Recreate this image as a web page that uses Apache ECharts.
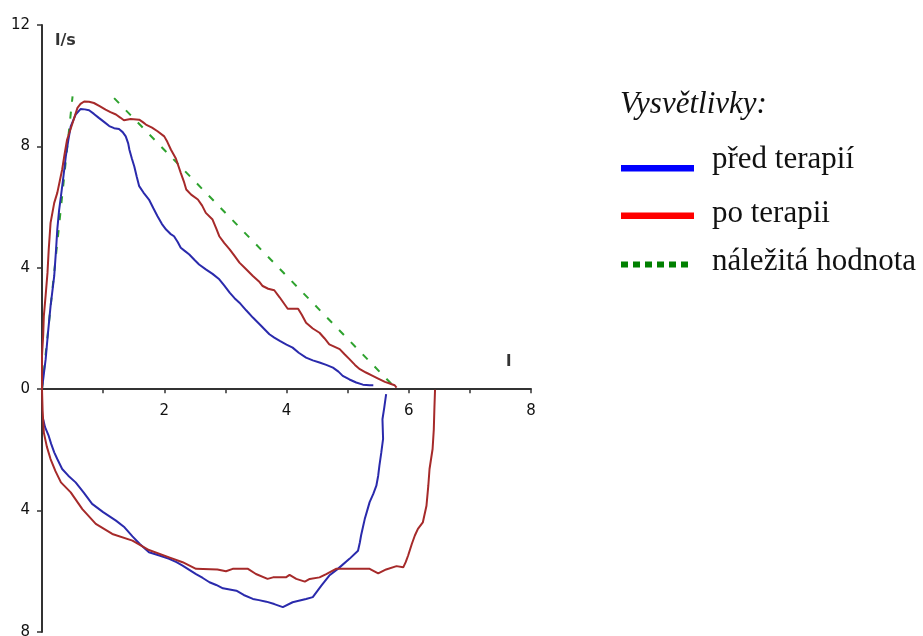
<!DOCTYPE html>
<html><head><meta charset="utf-8">
<script src="https://cdn.jsdelivr.net/npm/echarts@6/dist/echarts.min.js"></script>
<style>html,body{margin:0;padding:0;background:#fff}#c{width:923px;height:636px}</style>
</head><body><div id="c"></div>
<script>
// ---- data (volume l, flow l/s) ----
const legendTitle = 'Vysvětlivky:';
const seriesNames = ['před terapií', 'po terapii', 'náležitá hodnota'];
const xUnit = 'l';
const yUnit = 'l/s';
const xLabelValues = [2, 4, 6, 8];

const blueExp = [[0,0],[0.03,0.5],[0.06,0.99],[0.1,1.9],[0.14,2.74],[0.2,3.73],[0.23,4.6],[0.25,5.26],[0.28,5.9],[0.31,6.36],[0.35,7.0],[0.39,7.68],[0.43,8.2],[0.47,8.66],[0.55,9.05],[0.63,9.23],[0.7,9.22],[0.77,9.19],[0.85,9.07],[0.93,8.94],[1.02,8.8],[1.1,8.67],[1.18,8.6],[1.26,8.57],[1.32,8.47],[1.37,8.33],[1.41,8.1],[1.43,7.89],[1.47,7.6],[1.51,7.34],[1.55,7.0],[1.59,6.69],[1.66,6.48],[1.75,6.25],[1.82,5.97],[1.89,5.7],[1.96,5.45],[2.03,5.26],[2.1,5.12],[2.16,5.04],[2.22,4.85],[2.27,4.66],[2.34,4.55],[2.41,4.44],[2.5,4.25],[2.57,4.11],[2.68,3.95],[2.79,3.8],[2.9,3.62],[2.98,3.42],[3.07,3.18],[3.15,3.0],[3.23,2.85],[3.34,2.6],[3.45,2.36],[3.58,2.1],[3.72,1.81],[3.8,1.7],[3.89,1.59],[4.0,1.47],[4.1,1.37],[4.2,1.2],[4.32,1.04],[4.43,0.95],[4.54,0.88],[4.65,0.8],[4.76,0.71],[4.85,0.58],[4.92,0.44],[5.03,0.32],[5.14,0.22],[5.25,0.15],[5.36,0.13],[5.42,0.13]];

const blueInsp = [[5.63,-0.16],[5.6,-0.6],[5.57,-0.99],[5.58,-1.64],[5.55,-2.1],[5.52,-2.52],[5.5,-2.85],[5.47,-3.18],[5.42,-3.45],[5.36,-3.72],[5.32,-4.0],[5.28,-4.28],[5.25,-4.55],[5.22,-4.82],[5.2,-5.05],[5.17,-5.32],[5.03,-5.59],[4.84,-5.92],[4.7,-6.14],[4.57,-6.47],[4.43,-6.85],[4.32,-6.91],[4.2,-6.97],[4.1,-7.02],[3.94,-7.18],[3.8,-7.08],[3.67,-7.0],[3.55,-6.95],[3.45,-6.91],[3.3,-6.78],[3.18,-6.64],[3.07,-6.6],[2.96,-6.56],[2.85,-6.45],[2.74,-6.36],[2.63,-6.22],[2.52,-6.09],[2.41,-5.95],[2.3,-5.81],[2.2,-5.7],[2.08,-5.59],[1.92,-5.48],[1.75,-5.37],[1.6,-5.1],[1.48,-4.85],[1.35,-4.55],[1.21,-4.33],[1.0,-4.05],[0.82,-3.78],[0.68,-3.4],[0.55,-3.07],[0.43,-2.85],[0.33,-2.63],[0.25,-2.3],[0.2,-2.08],[0.15,-1.8],[0.11,-1.54],[0.05,-1.25],[0.02,-1.0]];

const redExp = [[0,0],[0.0,0.5],[0.0,1.1],[0.02,1.8],[0.03,2.41],[0.06,3.1],[0.09,3.84],[0.11,4.6],[0.14,5.48],[0.2,6.14],[0.25,6.47],[0.29,6.85],[0.33,7.24],[0.37,7.75],[0.41,8.22],[0.5,8.77],[0.58,9.27],[0.63,9.4],[0.69,9.48],[0.77,9.47],[0.85,9.43],[0.95,9.32],[1.04,9.21],[1.12,9.13],[1.21,9.05],[1.28,8.95],[1.34,8.86],[1.45,8.9],[1.59,8.88],[1.65,8.8],[1.7,8.72],[1.8,8.62],[1.89,8.5],[2.0,8.33],[2.05,8.15],[2.11,7.89],[2.19,7.6],[2.27,7.13],[2.32,6.85],[2.36,6.58],[2.44,6.41],[2.55,6.25],[2.62,6.05],[2.68,5.81],[2.79,5.59],[2.85,5.3],[2.9,5.04],[2.98,4.82],[3.07,4.61],[3.15,4.39],[3.23,4.17],[3.34,3.95],[3.45,3.73],[3.55,3.55],[3.61,3.4],[3.7,3.31],[3.8,3.26],[3.89,3.02],[4.02,2.65],[4.19,2.65],[4.25,2.45],[4.32,2.19],[4.43,2.0],[4.54,1.86],[4.62,1.68],[4.7,1.48],[4.87,1.32],[4.95,1.15],[5.03,0.99],[5.12,0.8],[5.2,0.66],[5.3,0.55],[5.41,0.44],[5.5,0.35],[5.61,0.24],[5.7,0.18],[5.77,0.13],[5.8,0.05]];

const redInsp = [[6.43,-0.02],[6.42,-0.6],[6.41,-1.32],[6.39,-1.97],[6.34,-2.63],[6.32,-3.18],[6.29,-3.84],[6.23,-4.39],[6.15,-4.6],[6.1,-4.82],[6.05,-5.1],[5.99,-5.48],[5.95,-5.7],[5.91,-5.87],[5.8,-5.83],[5.63,-5.94],[5.5,-6.07],[5.36,-5.92],[5.1,-5.92],[4.81,-5.92],[4.65,-6.09],[4.54,-6.2],[4.38,-6.25],[4.3,-6.34],[4.16,-6.25],[4.05,-6.12],[3.99,-6.2],[3.78,-6.2],[3.69,-6.25],[3.5,-6.09],[3.37,-5.92],[3.12,-5.92],[3.01,-6.0],[2.87,-5.94],[2.52,-5.92],[2.3,-5.7],[2.08,-5.54],[1.75,-5.3],[1.48,-4.99],[1.15,-4.77],[0.88,-4.44],[0.66,-3.95],[0.47,-3.4],[0.31,-3.07],[0.22,-2.7],[0.14,-2.3],[0.08,-1.9],[0.03,-1.43],[0.01,-0.7],[0,0]];

const greenRise = [[0,0],[0.5,9.65]];
const greenFall = [[1.18,9.59],[5.8,0]];

// ---- styles ----
const C_BLUE = '#2a2aac', C_RED = '#a62a2a', C_GREEN = '#2ea22e';
const axisFont = {fontFamily:'DejaVu Sans', fontSize:15, color:'#111'};
const GRID = {left:42, right:392, top:25, bottom:4};
const Y_MIN = -8, Y_MAX = 12;
const plotH = 636 - GRID.top - GRID.bottom;
const zeroOffset = -plotH * (0 - Y_MIN) / (Y_MAX - Y_MIN);

function line(name, data, color, dash){
  return {type:'line', name, data, showSymbol:false, symbol:'none', smooth:false,
    animation:false, silent:true,
    lineStyle:{color, width: 2, type: dash?[7,10]:'solid'}};
}

const chart = echarts.init(document.getElementById('c'), null, {renderer:'canvas'});
chart.setOption({
  backgroundColor:'#fff',
  animation:false,
  grid:{...GRID, containLabel:false, outerBoundsMode:'none'},
  xAxis:{type:'value', min:0, max:8, interval:1, position:'bottom', offset:zeroOffset,
    axisLine:{onZero:false, lineStyle:{color:'#333', width:2}},
    axisTick:{length:4, lineStyle:{color:'#333', width:1.5}},
    splitLine:{show:false},
    axisLabel:{margin:14, ...axisFont, formatter:v=> xLabelValues.includes(v)? String(v):''}},
  yAxis:{type:'value', min:Y_MIN, max:Y_MAX, interval:4,
    axisLine:{show:true, onZero:false, lineStyle:{color:'#333', width:2}},
    axisTick:{show:true, length:5, lineStyle:{color:'#333', width:1.5}},
    splitLine:{show:false},
    axisLabel:{margin:12, ...axisFont, formatter:v=>String(Math.abs(v))}},
  series:[
    line(seriesNames[2], greenRise, C_GREEN, true),
    line(seriesNames[2], greenFall, C_GREEN, true),
    line(seriesNames[0], blueExp, C_BLUE),
    line(seriesNames[0], blueInsp, C_BLUE),
    line(seriesNames[1], redExp, C_RED),
    line(seriesNames[1], redInsp, C_RED)
  ],
  graphic:[
    {type:'text', left:55, top:33, style:{text:yUnit, font:'bold 16px "DejaVu Sans"', fill:'#333'}},
    {type:'text', left:506, top:354, style:{text:xUnit, font:'bold 16px "DejaVu Sans"', fill:'#333'}},
    {type:'text', x:620, y:105, style:{text:legendTitle, font:'italic 31px "Liberation Serif"', fill:'#111', verticalAlign:'middle'}},
    {type:'rect', shape:{x:621, y:165, width:73, height:6.5}, style:{fill:'#0000ff'}},
    {type:'text', x:712, y:160, style:{text:seriesNames[0], font:'31px "Liberation Serif"', fill:'#111', verticalAlign:'middle'}},
    {type:'rect', shape:{x:621, y:212.5, width:73, height:6.5}, style:{fill:'#ff0000'}},
    {type:'text', x:712, y:214, style:{text:seriesNames[1], font:'31px "Liberation Serif"', fill:'#111', verticalAlign:'middle'}},
    {type:'line', shape:{x1:621, y1:264.5, x2:688, y2:264.5}, style:{stroke:'#008000', lineWidth:6, lineDash:[7,5], lineCap:'butt'}},
    {type:'text', x:712, y:262, style:{text:seriesNames[2], font:'31px "Liberation Serif"', fill:'#111', verticalAlign:'middle'}}
  ]
});
</script>
</body></html>
